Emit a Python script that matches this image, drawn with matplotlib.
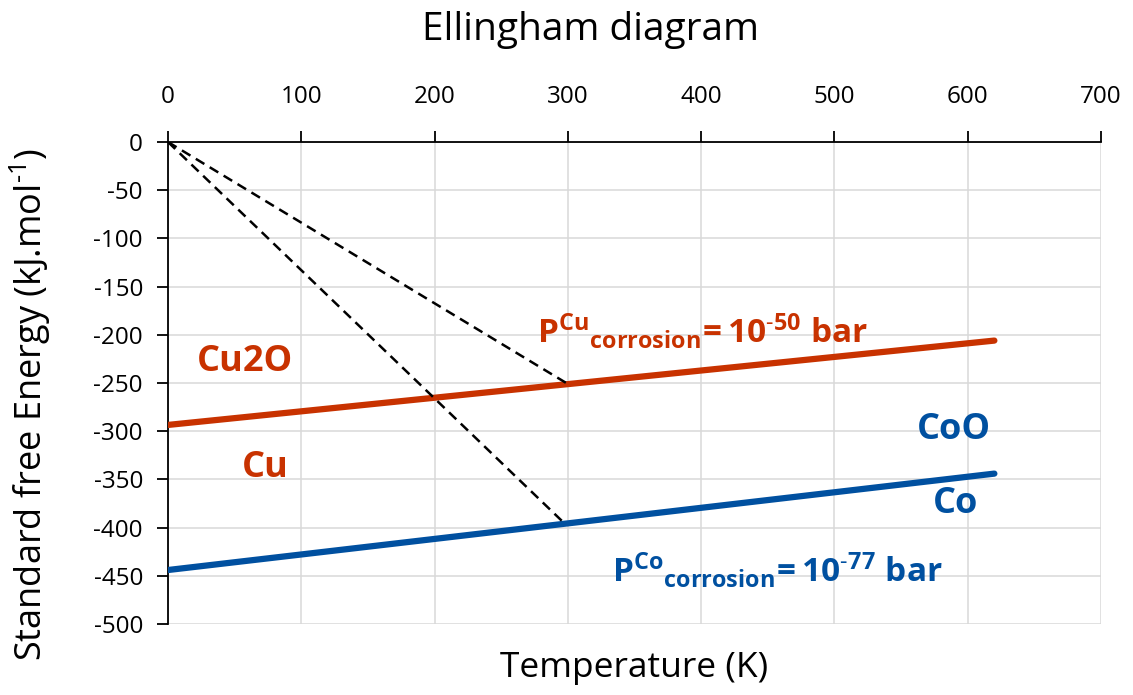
import matplotlib
matplotlib.use("Agg")
import matplotlib.pyplot as plt

# Data
t_range = [0, 620]
cu_line = [-293.5, -206.0]
co_line = [-444.0, -344.0]
dash_cu_x = [0, 300]
dash_cu_y = [0, -251]
dash_co_x = [0, 297]
dash_co_y = [0, -395]
x_ticks = [0, 100, 200, 300, 400, 500, 600, 700]
y_ticks = [0, -50, -100, -150, -200, -250, -300, -350, -400, -450, -500]

CU = "#C83200"
CO = "#0050A0"

plt.rcParams['font.family'] = ['Open Sans', 'DejaVu Sans']
plt.rcParams['axes.unicode_minus'] = False
plt.rcParams['mathtext.fontset'] = 'custom'
plt.rcParams['mathtext.rm'] = 'Open Sans'
plt.rcParams['mathtext.bf'] = 'Open Sans:bold'
plt.rcParams['mathtext.it'] = 'Open Sans:italic'

fig = plt.figure(figsize=(11.33, 6.95), dpi=100)
ax = fig.add_axes([168/1133, 1-624/695, (1101-168)/1133, (624-142)/695])

ax.set_xlim(0, 700)
ax.set_ylim(-500, 0)
ax.set_xticks(x_ticks)
ax.set_yticks(y_ticks)
ax.grid(True, color="#D9D9D9", linewidth=1.1)
ax.set_axisbelow(True)
for s in ['bottom', 'right']:
    ax.spines[s].set_visible(False)
for s in ['top', 'left']:
    ax.spines[s].set_linewidth(1.3)
    ax.spines[s].set_color('black')
ax.xaxis.tick_top()
ax.tick_params(axis='x', which='both', direction='out', length=8, width=1.3, pad=16, labelsize=17.5)
ax.tick_params(axis='y', which='both', direction='out', length=8, width=1.3, pad=10, labelsize=17.5)

ax.plot(t_range, cu_line, color=CU, linewidth=4.5, solid_capstyle='round', zorder=3)
ax.plot(t_range, co_line, color=CO, linewidth=4.5, solid_capstyle='round', zorder=3)
ax.plot(dash_cu_x, dash_cu_y, color='black', linewidth=1.8, dashes=(4, 2.5), zorder=4)
ax.plot(dash_co_x, dash_co_y, color='black', linewidth=1.8, dashes=(4, 2.5), zorder=4)

ax.text(58, -228, "Cu2O", color=CU, fontsize=26, fontweight='bold', ha='center', va='center')
ax.text(73, -338, "Cu", color=CU, fontsize=26, fontweight='bold', ha='center', va='center')
ax.text(590, -299, "CoO", color=CO, fontsize=26, fontweight='bold', ha='center', va='center')
ax.text(591, -376, "Co", color=CO, fontsize=26, fontweight='bold', ha='center', va='center')

ax.text(277, -208, r"$\mathbf{P^{Cu}{}_{corrosion}\!=10^{\text{-}50}\ bar}$", color=CU,
        fontsize=24, ha='left', va='baseline')
ax.text(333, -456, r"$\mathbf{P^{Co}{}_{corrosion}\!=10^{\text{-}77}\ bar}$", color=CO,
        fontsize=24, ha='left', va='baseline')

fig.text(591/1133, 1-30/695, "Ellingham diagram", fontsize=28, ha='center', va='center')
fig.text(634/1133, 1-668/695, "Temperature (K)", fontsize=25.5, ha='center', va='center')
fig.text(30/1133, 1-405/695, r"Standard free Energy (kJ.mol$^{\text{-}1}$)", fontsize=26,
         ha='center', va='center', rotation=90)

fig.savefig("out.png", dpi=100)
